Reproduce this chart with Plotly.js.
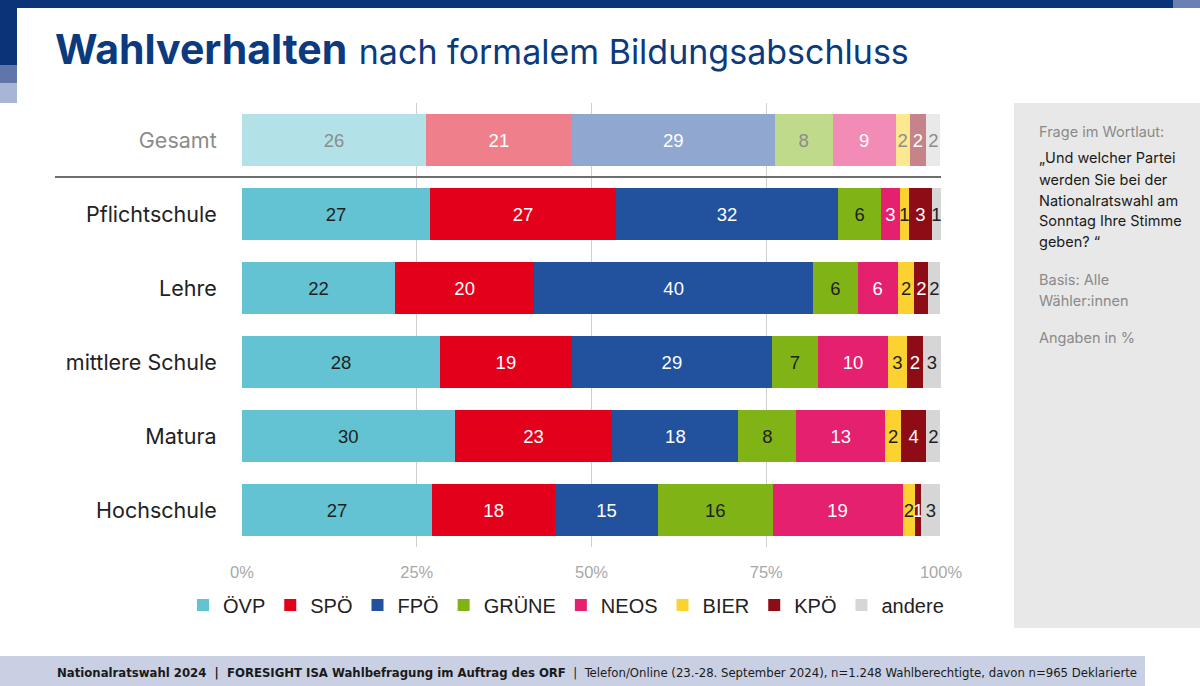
<!DOCTYPE html>
<html><head><meta charset="utf-8">
<script src="https://cdn.plot.ly/plotly-3.0.1.min.js"></script>
<style>html,body{margin:0;padding:0;background:#fff;} #chart{width:1200px;height:686px;}</style>
</head><body><div id="chart"></div>
<script>
// ---------- data ----------
const categories = ["Gesamt","Pflichtschule","Lehre","mittlere Schule","Matura","Hochschule"];
const parties = ["ÖVP","SPÖ","FPÖ","GRÜNE","NEOS","BIER","KPÖ","andere"];
const oevp   = [26.3, 26.9, 21.9, 28.3, 30.4, 27.2];
const spoe   = [20.9, 26.6, 19.9, 18.9, 22.6, 17.6];
const fpoe   = [29.0, 31.8, 39.9, 28.6, 18.0, 14.7];
const gruene = [8.3, 6.1, 6.4, 6.6, 8.3, 16.4];
const neos   = [9.0, 2.7, 5.7, 10.0, 12.7, 18.6];
const bier   = [2.0, 1.3, 2.4, 2.7, 2.3, 1.8];
const kpoe   = [2.4, 3.3, 2.0, 2.3, 3.6, 0.9];
const andere = [2.0, 1.3, 1.7, 2.6, 2.0, 2.7];
const xTickVals = [0, 25, 50, 75, 100];
const xTickLabels = ["0%","25%","50%","75%","100%"];

// ---------- styles ----------
const seriesValues = [oevp, spoe, fpoe, gruene, neos, bier, kpoe, andere];
const mainColors   = ["#63c3d2","#e2001a","#22519e","#80b316","#e5206f","#fbd22f","#8e0c15","#d6d6d6"];
const paleColors   = ["#b2e1e8","#f07f8c","#90a8d0","#bfda8b","#f28bb6","#fde892","#c7838a","#e9e9e9"];
const mainText     = ["#1f1f1f","#ffffff","#ffffff","#1f1f1f","#ffffff","#1f1f1f","#ffffff","#1f1f1f"];
const paleText     = ["#8c8c8c","#ffffff","#ffffff","#8c8c8c","#ffffff","#8c8c8c","#ffffff","#8c8c8c"];

const W = 1200, H = 686, L = 242, R = 941, T = 103, B = 547;
const px2x = p => (p - L) / (R - L);
const px2y = p => (B - p) / (B - T);
const barFont = "Liberation Sans, Arial, sans-serif";
const uiFont = "Inter, 'Noto Sans', sans-serif";

const traces = [];
parties.forEach((name, i) => {
  const vals = seriesValues[i];
  const mainY = categories.slice(1), mainX = vals.slice(1);
  traces.push({
    type: "bar", orientation: "h", name: name, legendgroup: name,
    y: mainY, x: mainX,
    text: mainX.map(v => String(Math.round(v))),
    textposition: "inside", insidetextanchor: "middle", constraintext: "none",
    textfont: {family: barFont, size: 18.5, color: mainText[i]},
    marker: {color: mainColors[i], line: {width: 0}},
    hoverinfo: "skip", cliponaxis: false
  });
  traces.push({
    type: "bar", orientation: "h", name: name, legendgroup: name, showlegend: false,
    y: [categories[0]], x: [vals[0]],
    text: [String(Math.round(vals[0]))],
    textposition: "inside", insidetextanchor: "middle", constraintext: "none",
    textfont: {family: barFont, size: 18.5, color: paleText[i]},
    marker: {color: paleColors[i], line: {width: 0}},
    hoverinfo: "skip", cliponaxis: false
  });
});

const rect = (x0, x1, y0, y1, color) => ({
  type: "rect", xref: "paper", yref: "paper", layer: "below",
  x0: px2x(x0), x1: px2x(x1), y0: px2y(y1), y1: px2y(y0),
  fillcolor: color, line: {width: 0}
});

const shapes = [
  rect(0, 1173, 0, 8, "#0b3478"),
  rect(1173, 1200, 0, 8, "#6b80b3"),
  rect(0, 17, 0, 65, "#0b3478"),
  rect(0, 17, 65, 83, "#6075aa"),
  rect(0, 17, 83, 103, "#a9b5d5"),
  rect(1014, 1200, 103, 628, "#e8e8e8"),
  rect(0, 1145, 656, 686, "#c9d0e3"),
  {type: "line", xref: "paper", yref: "y", x0: px2x(55), x1: 1, y0: 0.5, y1: 0.5,
   line: {color: "#6e6e6e", width: 2}, layer: "above"}
];

const panelLines = [
  ["Frage im Wortlaut:", 132, "#8a8a8a"],
  ["„Und welcher Partei", 158, "#1a1a1a"],
  ["werden Sie bei der", 179, "#1a1a1a"],
  ["Nationalratswahl am", 200, "#1a1a1a"],
  ["Sonntag Ihre Stimme", 221, "#1a1a1a"],
  ["geben? “", 242, "#1a1a1a"],
  ["Basis: Alle", 279, "#8a8a8a"],
  ["Wähler:innen", 300, "#8a8a8a"],
  ["Angaben in %", 338, "#8a8a8a"]
];
const annotations = panelLines.map(([t, y, c]) => ({
  text: t, xref: "paper", yref: "paper", x: px2x(1037), y: px2y(y),
  xanchor: "left", yanchor: "middle", showarrow: false,
  font: {family: uiFont, size: 14.5, color: c}
}));
annotations.push({
  text: "<b>Nationalratswahl 2024  |  FORESIGHT ISA Wahlbefragung im Auftrag des ORF</b>  |  Telefon/Online (23.-28. September 2024), n=1.248 Wahlberechtigte, davon n=965 Deklarierte",
  xref: "paper", yref: "paper", x: px2x(55), y: px2y(672),
  xanchor: "left", yanchor: "middle", showarrow: false,
  font: {family: "'Liberation Sans Narrow', 'DejaVu Sans Condensed', Roboto, sans-serif", size: 13, color: "#1a1a1a"}
});

const tickText = categories.map((c, i) => i === 0 ? '<span style="color:#8c8c8c">' + c + '</span>' : c);

const layout = {
  width: W, height: H,
  margin: {l: L, r: W - R, t: T, b: H - B, pad: 0, autoexpand: false},
  paper_bgcolor: "#ffffff", plot_bgcolor: "#ffffff",
  barmode: "stack", bargap: 0.30,
  showlegend: true,
  title: {
    text: '<b>Wahlverhalten</b> <span style="font-size:34px">nach formalem Bildungsabschluss</span>',
    x: 55 / W, xanchor: "left", xref: "container",
    y: 1 - 50 / H, yanchor: "middle", yref: "container",
    font: {family: uiFont, size: 41, color: "#0b3a7e"}
  },
  xaxis: {
    range: [0, 100], tickvals: xTickVals, ticktext: xTickLabels,
    showgrid: true, gridcolor: "#cfcfcf", gridwidth: 1,
    zeroline: false, showline: false,
    ticks: "outside", ticklen: 10, tickcolor: "rgba(0,0,0,0)",
    tickfont: {family: barFont, size: 16.5, color: "#a8a8a8"},
    fixedrange: true
  },
  yaxis: {
    type: "category", categoryorder: "array", categoryarray: categories,
    range: [5.5, -0.5],
    tickvals: categories, ticktext: tickText,
    showgrid: false, zeroline: false, showline: false,
    ticks: "outside", ticklen: 20, tickcolor: "rgba(0,0,0,0)",
    tickfont: {family: uiFont, size: 21.5, color: "#222222"},
    fixedrange: true
  },
  legend: {
    orientation: "h", traceorder: "normal",
    x: px2x(183), xanchor: "left",
    y: px2y(605), yanchor: "middle",
    font: {family: barFont, size: 20, color: "#222222"},
    itemwidth: 30,
    bgcolor: "rgba(0,0,0,0)"
  },
  shapes: shapes,
  annotations: annotations,
  hovermode: false
};

Plotly.newPlot("chart", traces, layout, {displayModeBar: false, staticPlot: true});
</script>
</body></html>
